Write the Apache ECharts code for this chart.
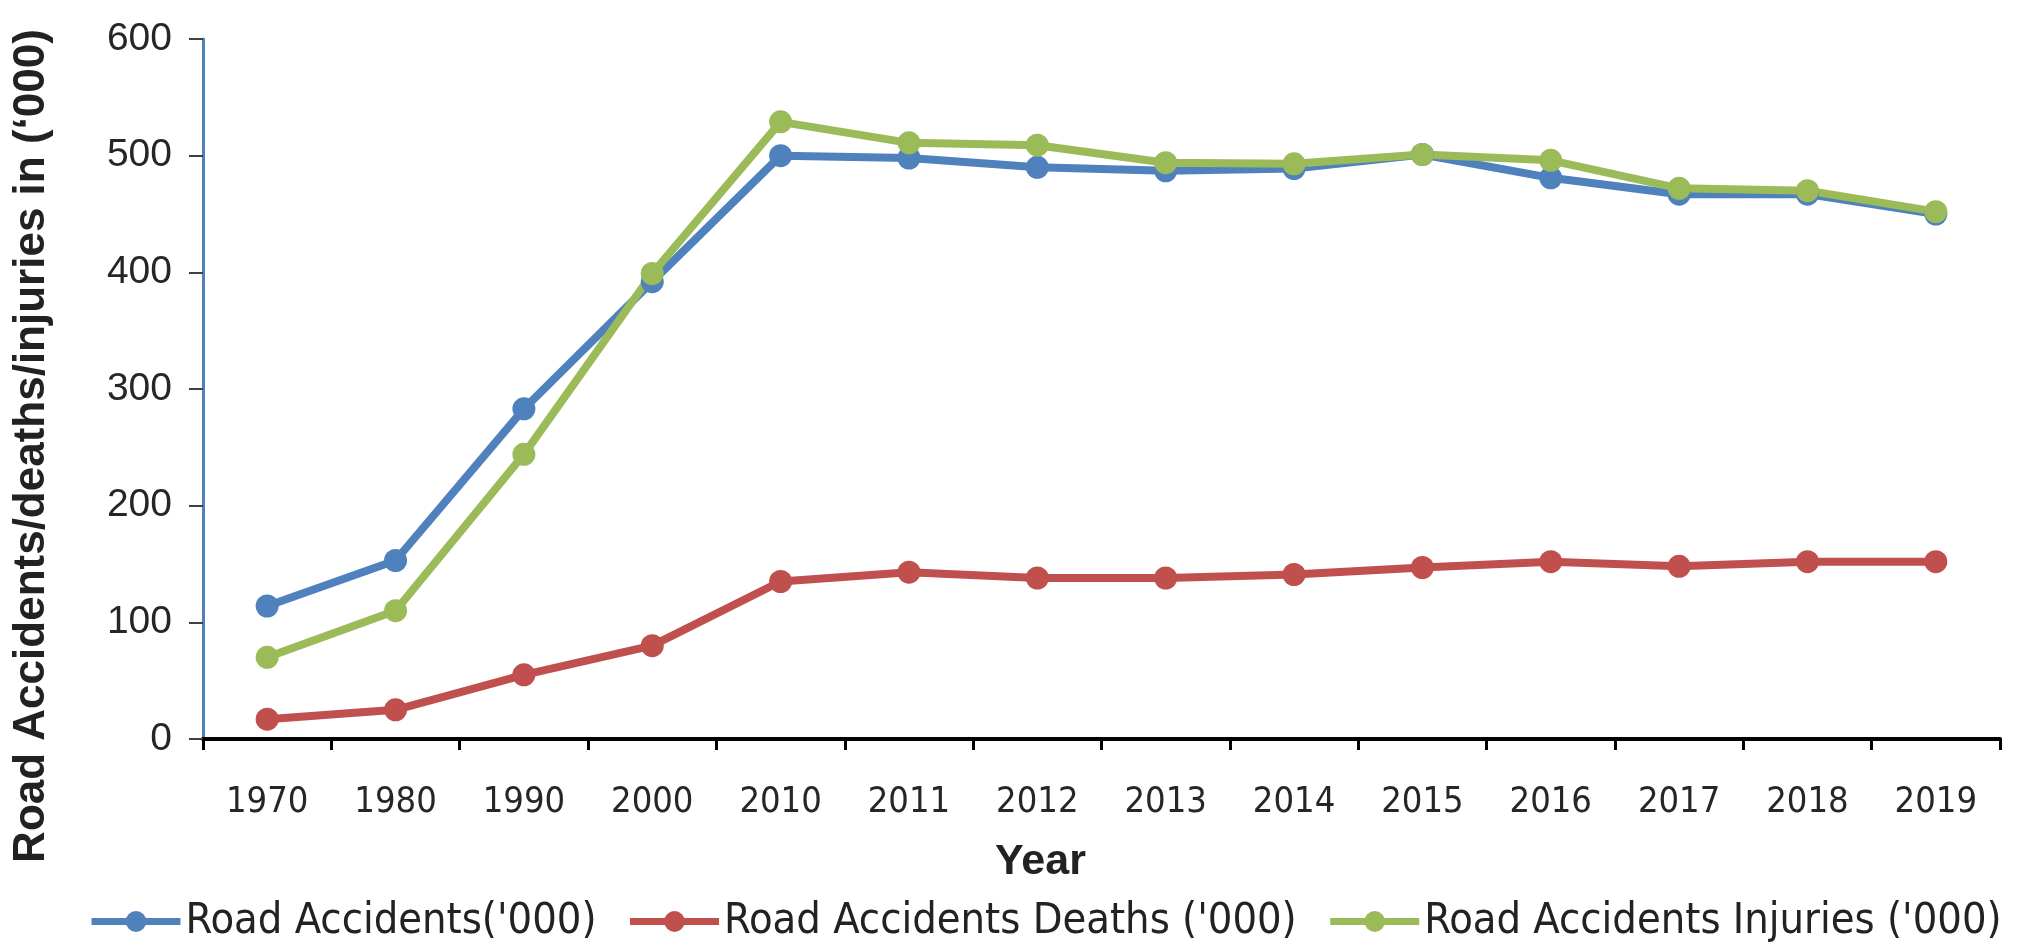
<!DOCTYPE html>
<html>
<head>
<meta charset="utf-8">
<script src="https://cdn.jsdelivr.net/npm/echarts@6/dist/echarts.min.js"></script>
<style>
  html, body { margin: 0; padding: 0; background: #ffffff; }
  #chart { width: 2026px; height: 949px; }
</style>
</head>
<body>
<div id="chart"></div>
<script>
const years = ['1970','1980','1990','2000','2010','2011','2012','2013','2014','2015','2016','2017','2018','2019'];
const accidents = [114, 153, 283, 392, 500, 498, 490, 487, 489, 501, 481, 467, 467, 450];
const deaths    = [17, 25, 55, 80, 135, 143, 138, 138, 141, 147, 152, 148, 152, 152];
const injuries  = [70, 110, 244, 399, 529, 511, 509, 494, 493, 501, 496, 472, 470, 452];
const seriesNames = ["Road Accidents('000)", "Road Accidents Deaths ('000)", "Road Accidents Injuries ('000)"];
const colors = ['#4F81BD', '#C0504D', '#9BBB59'];
const yTitle = "Road Accidents/deaths/injuries in (\u2018000)";
const xTitle = 'Year';

const narrow = '"DejaVu Sans Condensed", "Liberation Sans Narrow", "Liberation Sans", sans-serif';

const chart = echarts.init(document.getElementById('chart'), null, { renderer: 'canvas' });

function mkSeries(name, data, color) {
  return {
    name: name,
    type: 'line',
    data: data,
    symbol: 'circle',
    symbolSize: 23,
    lineStyle: { width: 8, color: color },
    itemStyle: { color: color },
    emphasis: { disabled: true },
    animation: false
  };
}

chart.setOption({
  backgroundColor: '#ffffff',
  animation: false,
  grid: { left: 203, right: 26, top: 39, bottom: 210, containLabel: false },
  legend: {
    orient: 'horizontal',
    left: 83,
    top: 895,
    width: 1943,
    itemWidth: 89,
    itemHeight: 26,
    itemGap: 30,
    lineStyle: { width: 7 },
    textStyle: { fontFamily: narrow, fontSize: 43, color: '#222222' },
    data: seriesNames
  },
  xAxis: {
    type: 'category',
    data: years,
    boundaryGap: true,
    name: xTitle,
    nameLocation: 'middle',
    nameGap: 102,
    nameTextStyle: {
      fontFamily: '"Liberation Sans", Arial, sans-serif',
      fontWeight: 'bold', fontSize: 43, color: '#222222',
      padding: [0, 122, 0, 0]
    },
    axisLine: { lineStyle: { color: '#000000', width: 4 } },
    axisTick: { show: true, alignWithLabel: false, interval: 0, length: 11, lineStyle: { color: '#000000', width: 3 } },
    axisLabel: { interval: 0, fontFamily: narrow, fontSize: 36, color: '#262626', margin: 46 },
    splitLine: { show: false }
  },
  yAxis: {
    type: 'value',
    min: 0,
    max: 600,
    interval: 100,
    name: yTitle,
    nameLocation: 'middle',
    nameRotate: 90,
    nameGap: 149,
    nameTextStyle: {
      fontFamily: '"Liberation Sans", Arial, sans-serif',
      fontWeight: 'bold', fontSize: 44, color: '#222222',
      padding: [0, 114, 0, 0]
    },
    axisLine: { show: true, lineStyle: { color: '#4F81BD', width: 3 } },
    axisTick: { show: true, length: 14, lineStyle: { color: '#404040', width: 2 } },
    axisLabel: { fontFamily: '"Liberation Sans", Arial, sans-serif', fontSize: 39, color: '#262626', margin: 31 },
    splitLine: { show: false }
  },
  series: [
    mkSeries(seriesNames[0], accidents, colors[0]),
    mkSeries(seriesNames[1], deaths, colors[1]),
    mkSeries(seriesNames[2], injuries, colors[2])
  ]
});
</script>
</body>
</html>
